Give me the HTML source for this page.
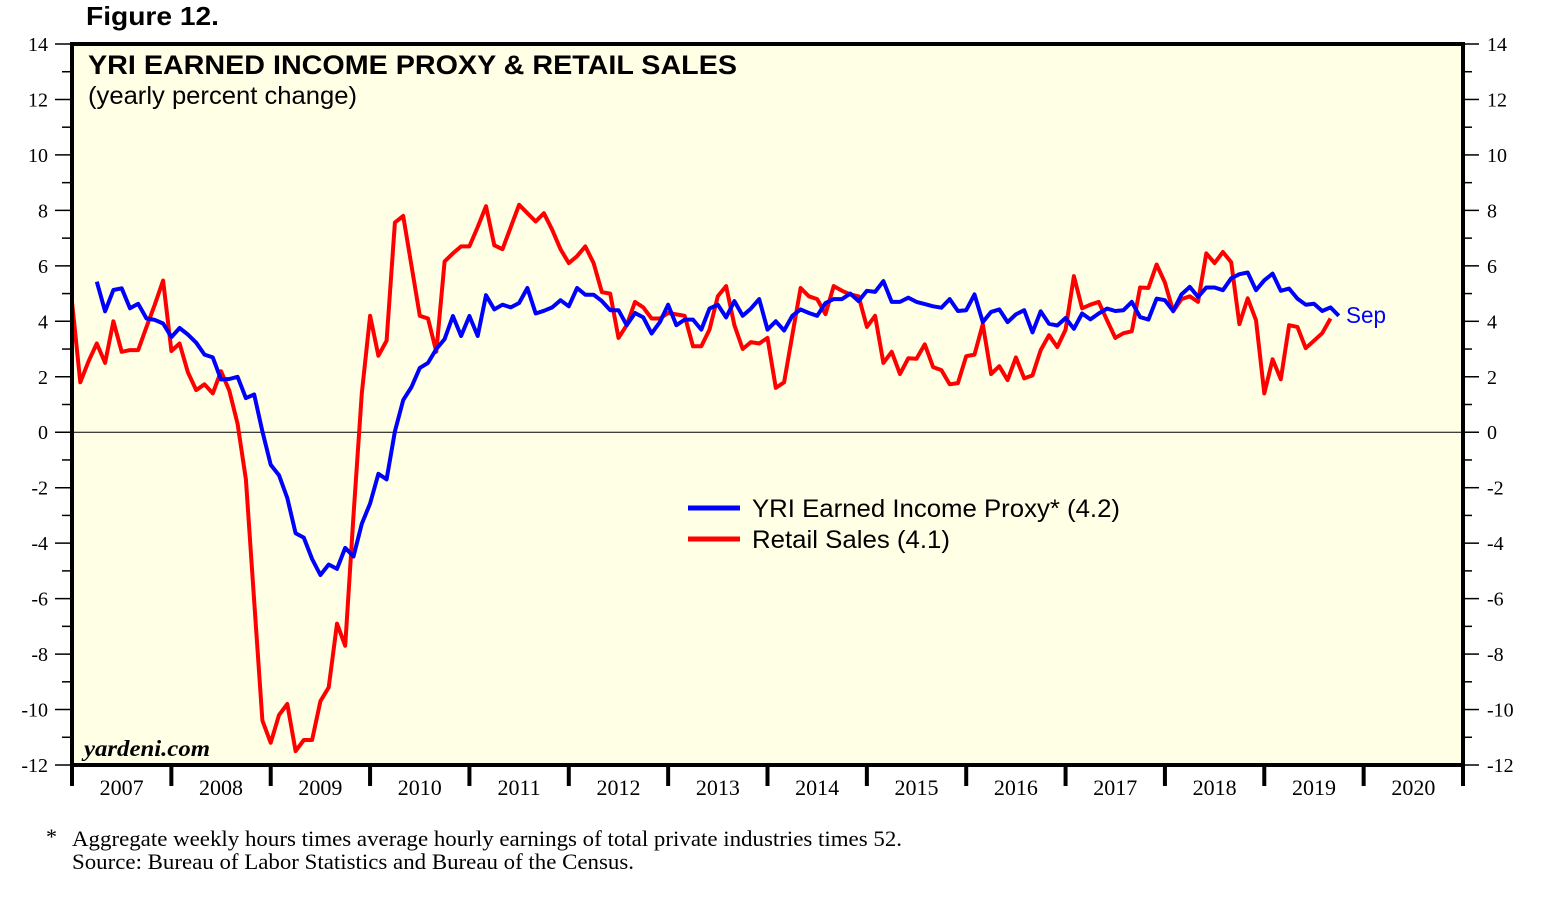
<!DOCTYPE html>
<html><head><meta charset="utf-8"><style>
body{margin:0;background:#fff;}
svg{display:block;}
</style></head><body>
<svg id="chart" width="1545" height="910" xmlns="http://www.w3.org/2000/svg">
<text x="86" y="25" font-family="Liberation Sans, sans-serif" font-weight="bold" font-size="26" textLength="133" lengthAdjust="spacingAndGlyphs">Figure 12.</text>
<rect x="72" y="44" width="1391" height="721" fill="#FFFFE6"/>
<g id="axes"></g>
<g id="series"></g>
<rect x="72" y="44" width="1391" height="721" fill="none" stroke="#000" stroke-width="4"/>
<text x="88" y="74" font-family="Liberation Sans, sans-serif" font-weight="bold" font-size="27" textLength="649" lengthAdjust="spacingAndGlyphs">YRI EARNED INCOME PROXY &amp; RETAIL SALES</text>
<text x="88" y="104" font-family="Liberation Sans, sans-serif" font-size="25" textLength="269" lengthAdjust="spacingAndGlyphs">(yearly percent change)</text>
<text x="84" y="756" font-family="Liberation Serif, serif" font-weight="bold" font-style="italic" font-size="23" textLength="126" lengthAdjust="spacingAndGlyphs">yardeni.com</text>
<g>
<line x1="688" y1="508" x2="740" y2="508" stroke="#0000FF" stroke-width="5"/>
<text x="752" y="517" font-family="Liberation Sans, sans-serif" font-size="25" textLength="368" lengthAdjust="spacingAndGlyphs">YRI Earned Income Proxy* (4.2)</text>
<line x1="688" y1="539" x2="740" y2="539" stroke="#FF0000" stroke-width="5"/>
<text x="752" y="548" font-family="Liberation Sans, sans-serif" font-size="25" textLength="198" lengthAdjust="spacingAndGlyphs">Retail Sales (4.1)</text>
</g>
<text x="1346" y="323" font-family="Liberation Sans, sans-serif" font-size="23" textLength="40" lengthAdjust="spacingAndGlyphs" fill="#0000FF">Sep</text>
<text x="46" y="844" font-family="Liberation Serif, serif" font-size="22">*</text>
<text x="72" y="846" font-family="Liberation Serif, serif" font-size="22" textLength="830" lengthAdjust="spacingAndGlyphs">Aggregate weekly hours times average hourly earnings of total private industries times 52.</text>
<text x="72" y="869" font-family="Liberation Serif, serif" font-size="22" textLength="562" lengthAdjust="spacingAndGlyphs">Source: Bureau of Labor Statistics and Bureau of the Census.</text>
</svg>
<script>
const yTicks = [14,12,10,8,6,4,2,0,-2,-4,-6,-8,-10,-12];
const years = [2007,2008,2009,2010,2011,2012,2013,2014,2015,2016,2017,2018,2019,2020];
const retailStartMonth = 0;
const retailSales = [4.7,1.8,2.56,3.2,2.5,4.0,2.9,2.96,2.96,3.8,4.6,5.47,2.93,3.2,2.16,1.52,1.73,1.4,2.2,1.5,0.3,-1.7,-6.1,-10.4,-11.2,-10.2,-9.8,-11.5,-11.1,-11.1,-9.7,-9.2,-6.9,-7.7,-3.0,1.4,4.2,2.76,3.3,7.56,7.8,6.0,4.2,4.1,2.9,6.16,6.45,6.7,6.7,7.4,8.15,6.74,6.6,7.4,8.2,7.9,7.6,7.9,7.3,6.6,6.1,6.35,6.7,6.1,5.05,5.0,3.4,3.86,4.7,4.5,4.1,4.1,4.3,4.25,4.2,3.1,3.1,3.7,4.9,5.27,3.86,3.0,3.25,3.2,3.4,1.6,1.8,3.5,5.2,4.9,4.8,4.26,5.27,5.1,4.97,4.9,3.8,4.2,2.5,2.9,2.1,2.67,2.65,3.17,2.35,2.24,1.73,1.77,2.74,2.8,3.9,2.1,2.38,1.88,2.7,1.94,2.05,2.96,3.5,3.07,3.7,5.63,4.47,4.6,4.7,4.04,3.4,3.57,3.64,5.22,5.2,6.05,5.4,4.36,4.8,4.9,4.7,6.45,6.1,6.5,6.13,3.9,4.83,4.04,1.4,2.63,1.91,3.86,3.8,3.03,3.3,3.57,4.1];
const incomeStartMonth = 3;
const incomeProxy = [5.43,4.36,5.13,5.19,4.47,4.63,4.1,4.05,3.92,3.43,3.76,3.52,3.23,2.8,2.7,1.9,1.92,2.0,1.23,1.36,0.03,-1.17,-1.55,-2.37,-3.64,-3.8,-4.57,-5.15,-4.77,-4.93,-4.17,-4.48,-3.3,-2.57,-1.5,-1.7,0.03,1.16,1.63,2.32,2.5,3.0,3.36,4.19,3.47,4.19,3.47,4.94,4.43,4.6,4.5,4.66,5.2,4.28,4.38,4.5,4.76,4.54,5.2,4.96,4.96,4.73,4.4,4.4,3.86,4.3,4.14,3.56,3.97,4.6,3.86,4.06,4.06,3.7,4.46,4.6,4.14,4.73,4.2,4.46,4.8,3.7,4.0,3.67,4.2,4.43,4.3,4.2,4.66,4.8,4.8,5.0,4.73,5.1,5.06,5.45,4.7,4.7,4.85,4.7,4.62,4.54,4.49,4.8,4.37,4.4,4.97,3.97,4.34,4.43,3.97,4.25,4.4,3.6,4.36,3.91,3.85,4.12,3.73,4.28,4.07,4.28,4.46,4.37,4.4,4.7,4.15,4.06,4.82,4.76,4.37,4.97,5.24,4.88,5.22,5.22,5.12,5.55,5.7,5.76,5.12,5.48,5.72,5.1,5.18,4.82,4.6,4.63,4.37,4.5,4.2];

const NS='http://www.w3.org/2000/svg';
const X0=72, X1=1463, Y0=44, Y1=765, YMAX=14, YMIN=-12;
const yearW=(X1-X0)/years.length;
function xMonth(m){return X0+m*yearW/12;}
function yVal(v){return Y0+(YMAX-v)*(Y1-Y0)/(YMAX-YMIN);}
function mk(tag,attrs,parent){const e=document.createElementNS(NS,tag);for(const k in attrs)e.setAttribute(k,attrs[k]);parent.appendChild(e);return e;}
const axes=document.getElementById('axes');
const ser=document.getElementById('series');
yTicks.forEach(v=>{
  const y=yVal(v);
  const tl=mk('line',{x1:55,x2:72,y1:y,y2:y,stroke:'#000','stroke-width':1.5},axes);
  
  
  const tr=mk('line',{x1:1463,x2:1479,y1:y,y2:y,stroke:'#000','stroke-width':1.5},axes);
  
  
  const ll=mk('text',{x:48,y:y+7,'text-anchor':'end','font-family':'Liberation Serif, serif','font-size':20},axes);
  ll.textContent=v;
  
  
  const lr=mk('text',{x:1487,y:y+7,'font-family':'Liberation Serif, serif','font-size':20},axes);
  lr.textContent=v;
  
  
  if(v>YMIN){
    const ym=yVal(v-1);
    const ml=mk('line',{x1:62,x2:72,y1:ym,y2:ym,stroke:'#000','stroke-width':1.5},axes);
    
    
    const mr=mk('line',{x1:1463,x2:1472,y1:ym,y2:ym,stroke:'#000','stroke-width':1.5},axes);
    
    
  }
});
const zl=mk('line',{x1:X0,x2:X1,y1:yVal(0),y2:yVal(0),stroke:'#000','stroke-width':1},axes);


for(let i=0;i<=years.length;i++){
  const x=xMonth(i*12);
  const t=mk('line',{x1:x,x2:x,y1:765,y2:786,stroke:'#000','stroke-width':4},axes);
  
  
}
years.forEach((yr,i)=>{
  const t=mk('text',{x:xMonth(i*12+6),y:795,'text-anchor':'middle','font-family':'Liberation Serif, serif','font-size':22},axes);
  t.textContent=yr;
  
  
});
function line(vals,start,color,name){
  const pts=vals.map((v,i)=>xMonth(start+i).toFixed(1)+','+yVal(v).toFixed(1)).join(' ');
  const p=mk('polyline',{points:pts,fill:'none',stroke:color,'stroke-width':4,'stroke-linejoin':'round'},ser);
  
  
}
line(retailSales,retailStartMonth,'#FF0000','retail-sales-line');
line(incomeProxy,incomeStartMonth,'#0000FF','earned-income-proxy-line');
</script>
</body></html>
